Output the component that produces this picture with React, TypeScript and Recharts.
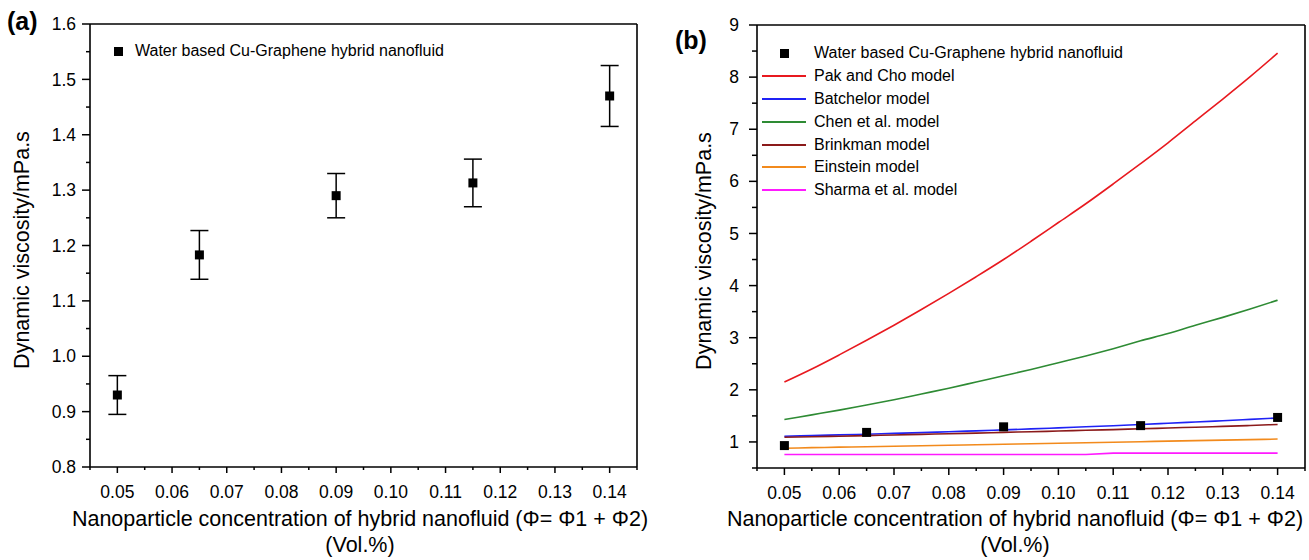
import React from 'react'
import {
  ComposedChart,
  Line,
  Scatter,
  XAxis,
  YAxis,
  ZAxis,
  ErrorBar,
  ReferenceLine,
  Legend,
} from 'recharts'

const FONT = '"Liberation Sans", Arial, Helvetica, sans-serif'

// measured points (both panels)
const phi = [0.05, 0.065, 0.09, 0.115, 0.14]
const viscosity = [0.93, 1.183, 1.29, 1.313, 1.47]
const viscosityErr = [0.035, 0.044, 0.04, 0.043, 0.055]

// model curves, panel (b)
const modelPhi = [
  0.05, 0.055, 0.06, 0.065, 0.07, 0.075, 0.08, 0.085, 0.09, 0.095, 0.1, 0.105,
  0.11, 0.115, 0.12, 0.125, 0.13, 0.135, 0.14,
]
const pakCho = [
  2.15, 2.4, 2.67, 2.95, 3.24, 3.54, 3.85, 4.17, 4.5, 4.85, 5.21, 5.57, 5.95,
  6.34, 6.74, 7.16, 7.58, 8.01, 8.46,
]
const batchelor = [
  1.11, 1.122, 1.135, 1.149, 1.164, 1.179, 1.196, 1.213, 1.231, 1.25, 1.27,
  1.291, 1.312, 1.335, 1.358, 1.382, 1.407, 1.433, 1.46,
]
const chen = [
  1.43, 1.52, 1.61, 1.71, 1.81, 1.92, 2.03, 2.15, 2.27, 2.39, 2.52, 2.65, 2.79,
  2.94, 3.08, 3.24, 3.39, 3.55, 3.72,
]
const brinkman = [
  1.09, 1.1, 1.11, 1.122, 1.134, 1.146, 1.158, 1.17, 1.183, 1.196, 1.209,
  1.223, 1.237, 1.252, 1.267, 1.283, 1.299, 1.316, 1.335,
]
const einstein = [
  0.88, 0.89, 0.9, 0.909, 0.918, 0.927, 0.936, 0.945, 0.955, 0.965, 0.975,
  0.985, 0.995, 1.005, 1.015, 1.025, 1.035, 1.045, 1.055,
]
const sharma = [
  0.76, 0.76, 0.76, 0.76, 0.76, 0.76, 0.76, 0.76, 0.76, 0.76, 0.76, 0.76,
  0.785, 0.785, 0.785, 0.785, 0.785, 0.785, 0.785,
]

const pointLabel = 'Water based Cu-Graphene hybrid nanofluid'
const modelNames = [
  'Pak and Cho model',
  'Batchelor model',
  'Chen et al. model',
  'Brinkman model',
  'Einstein model',
  'Sharma et al. model',
]
const modelColors = ['#e8191f', '#1f22f5', '#2e8b34', '#8b1a1a', '#f28a1c', '#ff1aff']
const modelValues = [pakCho, batchelor, chen, brinkman, einstein, sharma]

// ticks
const xTicks = [
  0.045, 0.05, 0.055, 0.06, 0.065, 0.07, 0.075, 0.08, 0.085, 0.09, 0.095, 0.1,
  0.105, 0.11, 0.115, 0.12, 0.125, 0.13, 0.135, 0.14, 0.145,
]
const xMajor = [0.05, 0.06, 0.07, 0.08, 0.09, 0.1, 0.11, 0.12, 0.13, 0.14]
const yTicksA = [
  0.8, 0.85, 0.9, 0.95, 1.0, 1.05, 1.1, 1.15, 1.2, 1.25, 1.3, 1.35, 1.4, 1.45,
  1.5, 1.55, 1.6,
]
const yMajorA = [0.8, 0.9, 1.0, 1.1, 1.2, 1.3, 1.4, 1.5, 1.6]
const yTicksB = [
  0.5, 1, 1.5, 2, 2.5, 3, 3.5, 4, 4.5, 5, 5.5, 6, 6.5, 7, 7.5, 8, 8.5, 9,
]
const yMajorB = [1, 2, 3, 4, 5, 6, 7, 8, 9]

const xTitle = 'Nanoparticle concentration of hybrid nanofluid (\u03A6= \u03A61 + \u03A62)'
const xUnit = '(Vol.%)'
const yTitle = 'Dynamic viscosity/mPa.s'

const points = phi.map((x, i) => ({ x, y: viscosity[i], err: viscosityErr[i] }))
const models = modelValues.map((vals) => vals.map((y, i) => ({ x: modelPhi[i], y })))

const isIn = (list: number[], v: number) => list.some((m) => Math.abs(m - v) < 1e-6)

const tickText = { fontSize: 17.5, fontFamily: FONT, fill: '#000' }
const axisLine = { stroke: '#000', strokeWidth: 1.6 }

const makeXTick = (major: number, minor: number) => (props: any) => {
  const { x, y, payload } = props
  const big = isIn(xMajor, payload.value)
  return (
    <g>
      <line x1={x} x2={x} y1={y} y2={y + (big ? major : minor)} stroke='#000' strokeWidth={1.5} />
      {big && (
        <text x={x} y={y + 31} textAnchor='middle' {...tickText}>
          {payload.value.toFixed(2)}
        </text>
      )}
    </g>
  )
}

const makeYTick = (majors: number[], digits: number, major: number, minor: number, gap: number) => (props: any) => {
  const { x, y, payload } = props
  const big = isIn(majors, payload.value)
  return (
    <g>
      <line x1={x - (big ? major : minor)} x2={x} y1={y} y2={y} stroke='#000' strokeWidth={1.5} />
      {big && (
        <text x={x - gap} y={y} dy='0.35em' textAnchor='end' {...tickText}>
          {payload.value.toFixed(digits)}
        </text>
      )}
    </g>
  )
}

const legendRow: React.CSSProperties = {
  display: 'flex',
  alignItems: 'center',
  height: 22.8,
  fontSize: 16,
  fontFamily: FONT,
  color: '#000',
  whiteSpace: 'nowrap',
}

const LegendA = () => (
  <div>
    <div style={legendRow}>
      <span style={{ width: 20, display: 'flex', justifyContent: 'center' }}>
        <span style={{ width: 9, height: 9, background: '#000' }} />
      </span>
      <span style={{ marginLeft: 7 }}>{pointLabel}</span>
    </div>
  </div>
)

const LegendB = () => (
  <div>
    <div style={legendRow}>
      <span style={{ width: 44, display: 'flex', justifyContent: 'center' }}>
        <span style={{ width: 9, height: 9, background: '#000' }} />
      </span>
      <span style={{ marginLeft: 8 }}>{pointLabel}</span>
    </div>
    {modelNames.map((name, i) => (
      <div key={name} style={legendRow}>
        <span style={{ width: 44, height: 2, background: modelColors[i] }} />
        <span style={{ marginLeft: 8 }}>{name}</span>
      </div>
    ))}
  </div>
)

const title: React.CSSProperties = {
  position: 'absolute',
  fontFamily: FONT,
  fontSize: 21.5,
  color: '#000',
  whiteSpace: 'nowrap',
  transform: 'translate(-50%, -50%)',
  lineHeight: 1,
}

const YTitle = ({ cx, cy }: { cx: number; cy: number }) => (
  <div style={{ ...title, left: cx, top: cy, transform: 'translate(-50%, -50%) rotate(-90deg)' }}>
    {yTitle}
  </div>
)

const XTitle = ({ cx }: { cx: number }) => (
  <>
    <div style={{ ...title, left: cx, top: 520 }}>{xTitle}</div>
    <div style={{ ...title, left: cx, top: 546 }}>{xUnit}</div>
  </>
)

const PanelTag = ({ text, left, cy }: { text: string; left: number; cy: number }) => (
  <div
    style={{
      position: 'absolute',
      left,
      top: cy,
      transform: 'translateY(-50%)',
      fontFamily: FONT,
      fontWeight: 700,
      fontSize: 25,
      lineHeight: 1,
      color: '#000',
    }}>
    {text}
  </div>
)

export default function App() {
  return (
    <div
      style={{
        position: 'fixed',
        left: 0,
        top: 0,
        width: 1309,
        height: 560,
        background: '#fff',
        overflow: 'hidden',
      }}>
      <div style={{ position: 'absolute', left: 0, top: 0 }}>
        <ComposedChart width={660} height={560} margin={{ top: 24, right: 23, bottom: 53, left: 30 }}>
          <XAxis
            type='number'
            dataKey='x'
            domain={[0.045, 0.145]}
            ticks={xTicks}
            interval={0}
            height={40}
            tickSize={0}
            tickMargin={0}
            tickLine={false}
            axisLine={axisLine}
            tick={makeXTick(6, 3)}
            allowDataOverflow
          />
          <YAxis
            type='number'
            dataKey='y'
            domain={[0.8, 1.6]}
            ticks={yTicksA}
            interval={0}
            width={60}
            tickSize={0}
            tickMargin={0}
            tickLine={false}
            axisLine={axisLine}
            tick={makeYTick(yMajorA, 1, 8, 4, 14)}
            allowDataOverflow
          />
          <ZAxis range={[81, 81]} />
          <ReferenceLine y={1.6} stroke='#000' strokeWidth={1.6} />
          <ReferenceLine x={0.145} stroke='#000' strokeWidth={1.6} />
          <Scatter data={points} dataKey='y' fill='#000' shape='square' isAnimationActive={false}>
            <ErrorBar dataKey='err' direction='y' width={9} stroke='#000' strokeWidth={1.5} />
          </Scatter>
          <Legend
            layout='vertical'
            align='center'
            verticalAlign='middle'
            wrapperStyle={{ left: 108, top: 40, width: 'auto', height: 'auto' }}
            content={() => <LegendA />}
          />
        </ComposedChart>
      </div>

      <div style={{ position: 'absolute', left: 660, top: 0 }}>
        <ComposedChart width={649} height={560} margin={{ top: 25, right: 4, bottom: 52, left: 37 }}>
          <XAxis
            type='number'
            dataKey='x'
            domain={[0.045, 0.145]}
            ticks={xTicks}
            interval={0}
            height={40}
            tickSize={0}
            tickMargin={0}
            tickLine={false}
            axisLine={axisLine}
            tick={makeXTick(7, 3)}
            allowDataOverflow
          />
          <YAxis
            type='number'
            dataKey='y'
            domain={[0.5, 9]}
            ticks={yTicksB}
            interval={0}
            width={60}
            tickSize={0}
            tickMargin={0}
            tickLine={false}
            axisLine={axisLine}
            tick={makeYTick(yMajorB, 0, 8, 5, 18)}
            allowDataOverflow
          />
          <ZAxis range={[81, 81]} />
          <ReferenceLine y={9} stroke='#000' strokeWidth={1.6} />
          <ReferenceLine x={0.145} stroke='#000' strokeWidth={1.6} />
          {models.map((data, i) => (
            <Line
              key={modelNames[i]}
              data={data}
              dataKey='y'
              name={modelNames[i]}
              type={i === 5 ? 'linear' : 'monotone'}
              stroke={modelColors[i]}
              strokeWidth={1.6}
              dot={false}
              isAnimationActive={false}
            />
          ))}
          <Scatter data={points} dataKey='y' fill='#000' shape='square' isAnimationActive={false} />
          <Legend
            layout='vertical'
            align='center'
            verticalAlign='middle'
            wrapperStyle={{ left: 102, top: 42, width: 'auto', height: 'auto' }}
            content={() => <LegendB />}
          />
        </ComposedChart>
      </div>

      <PanelTag text='(a)' left={7} cy={21} />
      <PanelTag text='(b)' left={675} cy={40} />
      <YTitle cx={23} cy={250} />
      <YTitle cx={705} cy={251} />
      <XTitle cx={360} />
      <XTitle cx={1015} />
    </div>
  )
}
